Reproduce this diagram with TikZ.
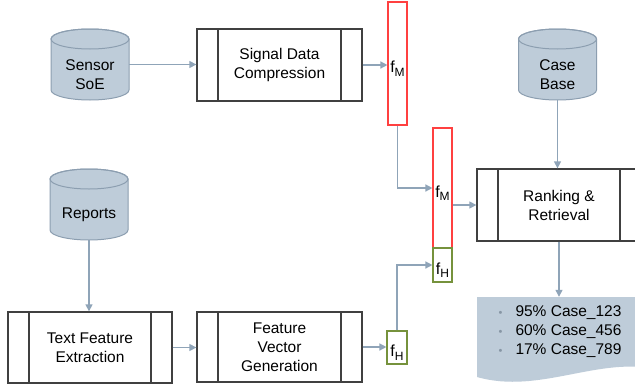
\documentclass[tikz,border=0pt]{standalone}
\usepackage{fontspec}
\setmainfont{Liberation Sans}
\usetikzlibrary{arrows.meta}
\definecolor{arrc}{RGB}{143,164,184}
\definecolor{cylfill}{RGB}{190,204,217}
\definecolor{cylline}{RGB}{140,158,176}
\definecolor{boxc}{RGB}{64,64,64}
\definecolor{redc}{RGB}{255,64,64}
\definecolor{greenc}{RGB}{118,146,60}
\definecolor{bulc}{RGB}{135,150,165}
\newcommand\btxt{\fontsize{15.5}{19}\selectfont}
\newcommand\fsub[1]{f\raisebox{-3.5pt}{\fontsize{12}{12}\selectfont #1}}
\newcommand\bul{\makebox[17pt][l]{\raisebox{0.5pt}{\fontsize{11}{11}\selectfont\textcolor{bulc}{\textbullet}}}}
\tikzset{
  conn/.style={draw=arrc, line width=1.3pt, -{Triangle[length=7pt,width=7pt]}},
  proc/.style={draw=boxc, line width=1.3pt, fill=white, minimum width=165pt,
    minimum height=72pt, inner sep=0pt, align=center, font=\btxt,
    path picture={\draw[boxc, line width=1.3pt]
      ([xshift=21pt]path picture bounding box.north west) -- ([xshift=21pt]path picture bounding box.south west)
      ([xshift=-21pt]path picture bounding box.north east) -- ([xshift=-21pt]path picture bounding box.south east);}},
  fvec/.style={draw=#1, line width=1.1pt, fill=white, minimum width=19pt, inner sep=0pt},
  flab/.style={font=\fontsize{16}{16}\selectfont, yshift=-5pt, inner sep=0pt},
  cylnode/.style={minimum width=78pt, minimum height=71pt, inner sep=0pt},
  cyllab/.style={font=\btxt, align=center, yshift=-10pt},
  cylshape/.style={fill=cylfill, draw=cylline, line width=1pt},
}
\newcommand\cyldraw[4]{%
  \path[cylshape] (#2-39,#3-25.5) -- (#2-39,#3+25.5)
    arc[start angle=180,end angle=360,x radius=39pt,y radius=10pt]
    -- (#2+39,#3-25.5)
    arc[start angle=0,end angle=180,x radius=39pt,y radius=10pt] -- cycle;
  \draw[cylline, line width=1pt] (#2,#3-25.5) ellipse[x radius=39pt, y radius=10pt];
  \node[cylnode, label={[cyllab]center:{#4}}] (#1) at (#2,#3) {};
}
\begin{document}
\begin{tikzpicture}[x=1pt, y=-1pt]
\useasboundingbox (0,0) rectangle (635,386);
\fill[white] (0,0) rectangle (635,386);

% cylinders
\cyldraw{sensor}{90}{64.5}{Sensor\\SoE}
\cyldraw{casebase}{557.5}{64.5}{Case\\Base}
\cyldraw{reports}{89}{204.5}{Reports}

% process boxes
\node[proc] (sig) at (279.5,65) {Signal Data\\Compression};
\node[proc, minimum width=164pt] (rank) at (559,205) {Ranking \&\\Retrieval};
\node[proc, minimum width=164pt, minimum height=71pt] (tfe) at (90,347.5) {Text Feature\\Extraction};
\node[proc, minimum height=70pt] (fvg) at (279.5,347) {Feature\\Vector\\Generation};

% feature vectors
\node[fvec=redc, minimum height=123pt, label={[flab]center:{\fsub{M}}}] (fm1) at (397.5,63.5) {};
\node[fvec=redc, minimum height=120pt, label={[flab]center:{\fsub{M}}}] (fm2) at (442.5,188) {};
\node[fvec=greenc, minimum height=34pt, label={[flab]center:{\fsub{H}}}] (fh2) at (442.5,265) {};
\node[fvec=greenc, minimum width=20pt, minimum height=33pt, label={[flab]center:{\fsub{H}}}] (fh1) at (397,347.5) {};

% document
\fill[cylfill] (477,297) -- (660,297) -- (660,370) .. controls (600,355) and (540,395) .. (477,377) -- cycle;
\node[minimum width=168pt, minimum height=83pt, inner sep=0pt,
  label={[font=\btxt, align=left, xshift=-1pt, yshift=6.5pt]center:{\bul 95\% Case\_123\\\bul 60\% Case\_456\\\bul 17\% Case\_789}}] (doc) at (561,338.5) {};

% connectors
\draw[conn] (sensor.east) -- (sensor.east -| sig.west);
\draw[conn] (sig.east) -- (sig.east -| fm1.west);
\draw[conn] (fm1.south) |- (fm2.west);
\draw[conn] (fm2.east |- rank.west) -- (rank.west);
\draw[conn] (casebase.south) -- (casebase.south |- rank.north);
\draw[conn] (rank.south) -- (rank.south |- doc.north);
\draw[conn] (reports.south) -- (reports.south |- tfe.north);
\draw[conn] (tfe.east) -- (tfe.east -| fvg.west);
\draw[conn] (fvg.east) -- (fvg.east -| fh1.west);
\draw[conn] (fh1.north) |- (fh2.west);
\end{tikzpicture}
\end{document}
